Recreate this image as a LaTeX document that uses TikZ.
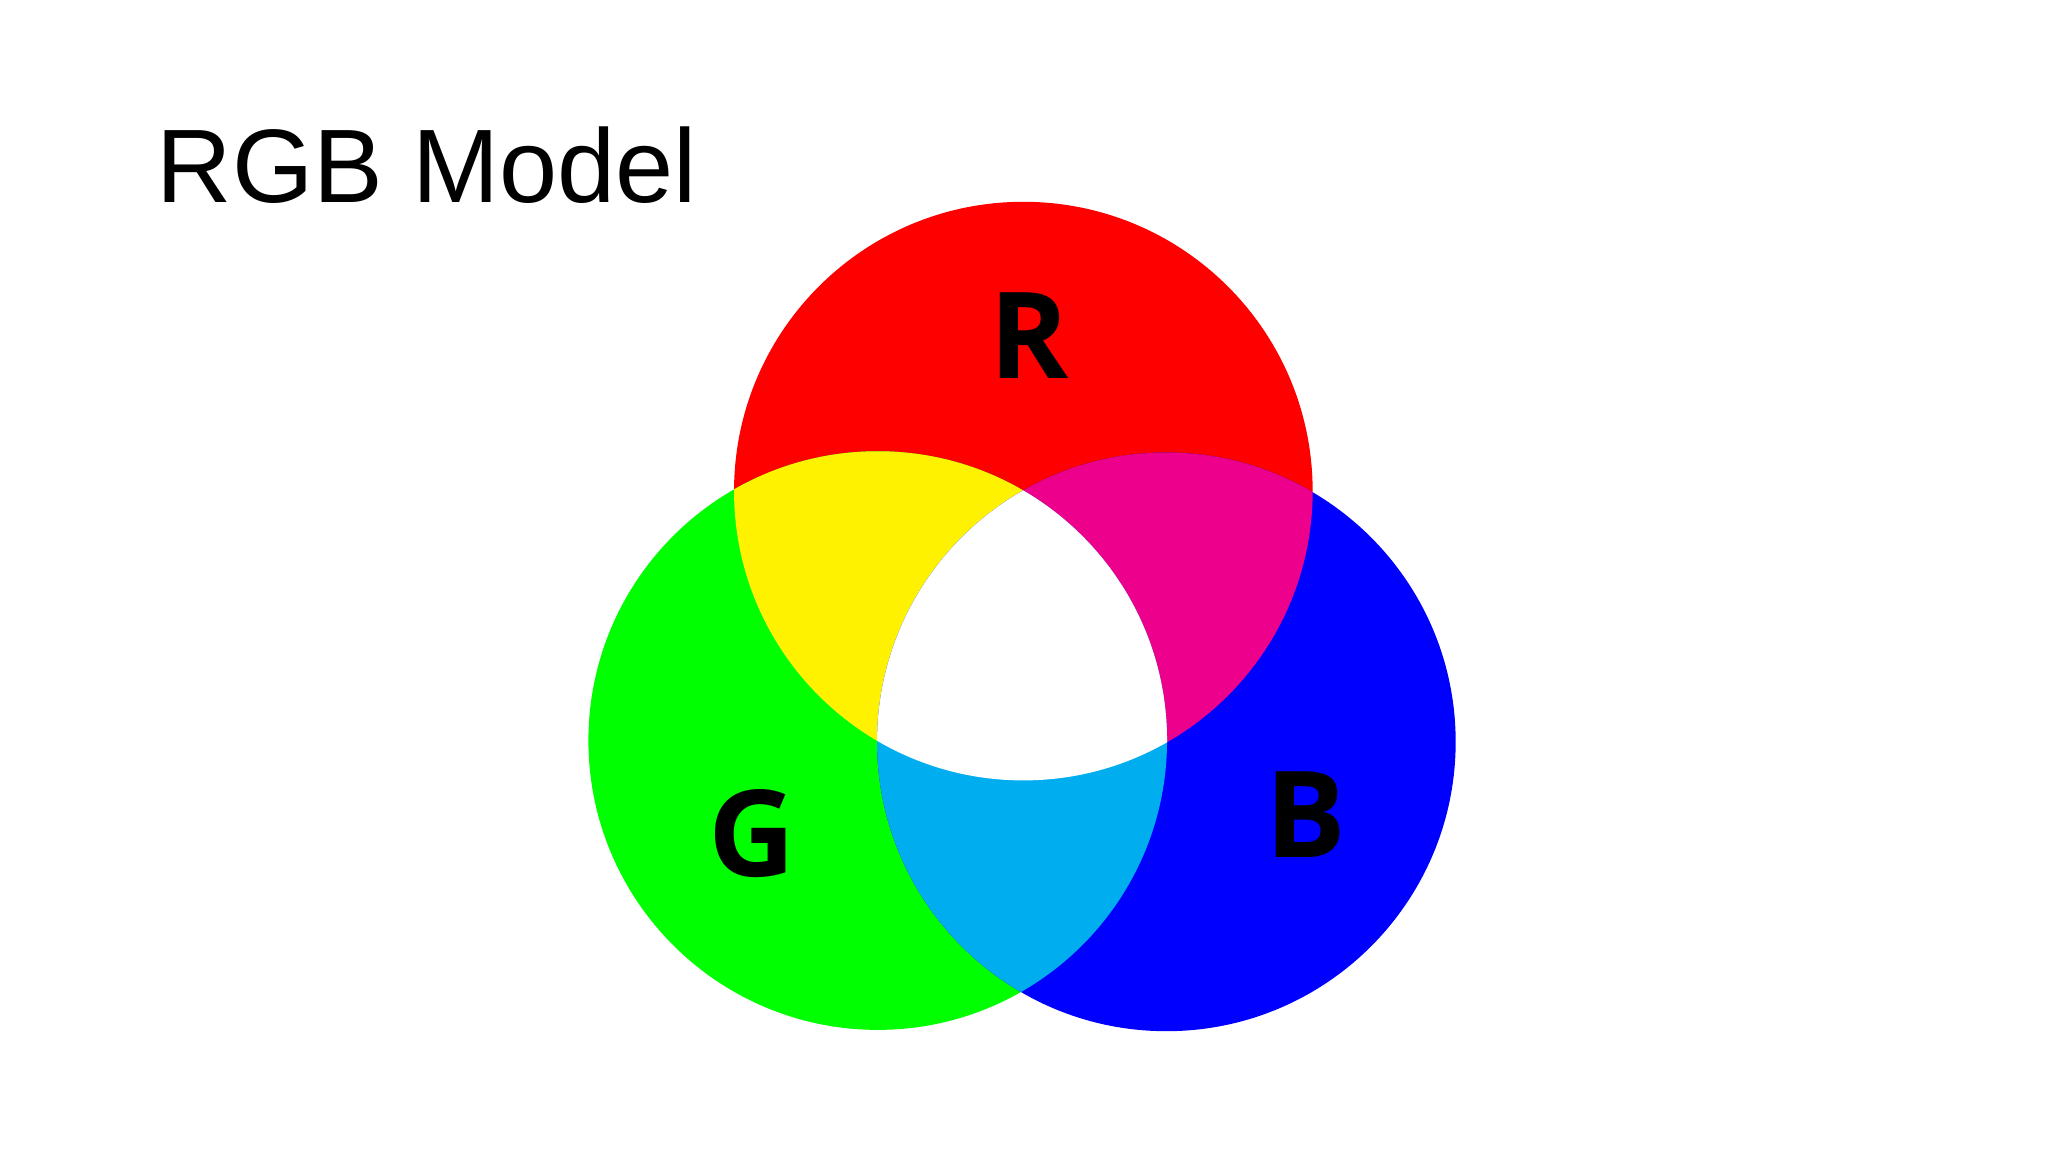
\documentclass[tikz,border=0pt]{standalone}
\usepackage{fontspec}
\setmainfont{Liberation Sans}
\newfontfamily\letterfont{Open Sans}
\begin{document}
\begin{tikzpicture}[x=1pt,y=-1pt,
  lbl/.style={font=\letterfont\bfseries\fontsize{92}{92}\selectfont, text=black}]
\useasboundingbox (0,0) rectangle (1568,882);
\fill[white] (0,0) rectangle (1568,882);
\def\rad{221.5}
\coordinate (cr) at (783.5,376);
\coordinate (cg) at (672,567);
\coordinate (cb) at (893,568);
\fill[red] (cr) circle (\rad);
\fill[green] (cg) circle (\rad);
\fill[blue] (cb) circle (\rad);
\begin{scope}\clip (cr) circle (\rad); \fill[yellow] (cg) circle (\rad);\end{scope}
\begin{scope}\clip (cr) circle (\rad); \fill[magenta] (cb) circle (\rad);\end{scope}
\begin{scope}\clip (cg) circle (\rad); \fill[cyan] (cb) circle (\rad);\end{scope}
\begin{scope}\clip (cr) circle (\rad); \clip (cg) circle (\rad); \fill[white] (cb) circle (\rad);\end{scope}
\node[lbl] (r) at (788,257) {R};
\node[lbl] (g) at (576,638) {G};
\node[lbl] (b) at (1000,624) {B};
\node[anchor=base west, font=\fontsize{80}{80}\selectfont, inner sep=0pt] (title) at (120,155) {RGB Model};
\end{tikzpicture}
\end{document}
